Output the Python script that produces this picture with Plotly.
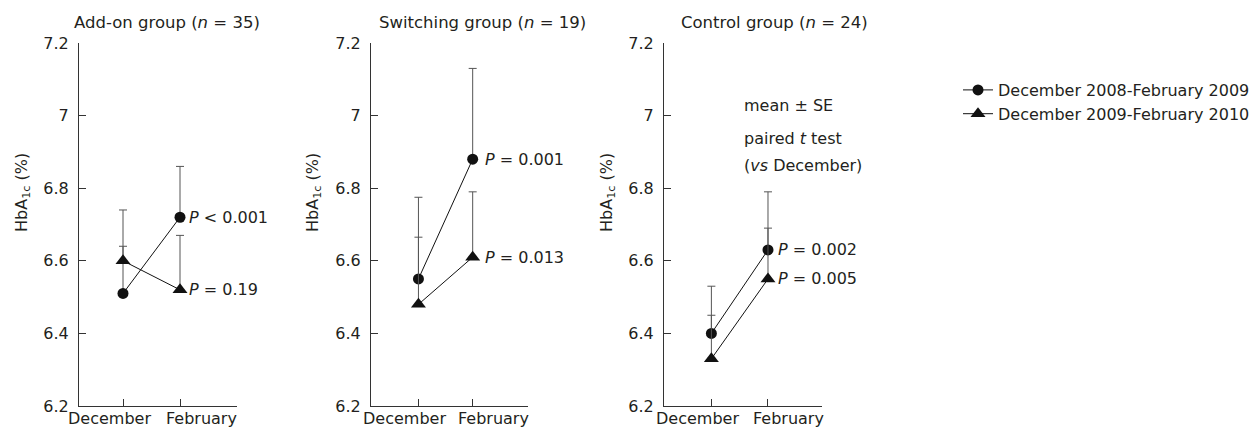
import plotly.graph_objects as go

# ---- data ----
categories = ["December", "February"]
cat_pos = [1, 2]
groups = ["Add-on group (<i>n</i> = 35)", "Switching group (<i>n</i> = 19)", "Control group (<i>n</i> = 24)"]
series_names = ["December 2008-February 2009", "December 2009-February 2010"]

# Add-on group
addon_0809_mean = [6.51, 6.72]
addon_0809_upper = [6.64, 6.86]
addon_0910_mean = [6.60, 6.52]
addon_0910_upper = [6.74, 6.67]
# Switching group
switch_0809_mean = [6.55, 6.88]
switch_0809_upper = [6.775, 7.13]
switch_0910_mean = [6.48, 6.61]
switch_0910_upper = [6.665, 6.79]
# Control group
control_0809_mean = [6.40, 6.63]
control_0809_upper = [6.53, 6.79]
control_0910_mean = [6.33, 6.55]
control_0910_upper = [6.45, 6.69]

p_labels = [["<i>P</i> &lt; 0.001", "<i>P</i> = 0.19"],
            ["<i>P</i> = 0.001", "<i>P</i> = 0.013"],
            ["<i>P</i> = 0.002", "<i>P</i> = 0.005"]]

y_ticks = [6.2, 6.4, 6.6, 6.8, 7.0, 7.2]
y_ticktext = ["6.2", "6.4", "6.6", "6.8", "7", "7.2"]

panels = [
    (addon_0809_mean, addon_0809_upper, addon_0910_mean, addon_0910_upper),
    (switch_0809_mean, switch_0809_upper, switch_0910_mean, switch_0910_upper),
    (control_0809_mean, control_0809_upper, control_0910_mean, control_0910_upper),
]

W, H = 1256, 432
FONT = "DejaVu Sans"
TXT = "#231f20"
AX = "#333333"

# geometry (pixels)
x_dom_px = [(79, 237), (371, 528), (664, 822)]
x_ranges = [(0.228, 3.0), (0.125, 3.02), (0.163, 2.954)]
y_top_px, y_bot_px = 43, 406
p_shift = [7, 10, 8]
title_cx = [167, 482, 774]
ytitle_x = [22, 313, 607]
cat_shift = [-14, 21]

fig = go.Figure()
symbols = ["circle", "triangle-up"]
sizes = [11, 13]

for i, (m1, u1, m2, u2) in enumerate(panels):
    xa = "x" if i == 0 else f"x{i+1}"
    ya = "y" if i == 0 else f"y{i+1}"
    for k, (m, u) in enumerate([(m1, u1), (m2, u2)]):
        fig.add_trace(go.Scatter(
            x=cat_pos, y=m, xaxis=xa, yaxis=ya,
            mode="lines+markers",
            name=series_names[k],
            legendgroup=series_names[k],
            showlegend=(i == 0),
            line=dict(color="#111111", width=1),
            marker=dict(symbol=symbols[k], size=sizes[k], color="#111111"),
            error_y=dict(type="data", symmetric=False,
                         array=[uu - mm for uu, mm in zip(u, m)],
                         arrayminus=[0] * len(m),
                         color="#555555", thickness=1, width=4),
        ))
        fig.add_annotation(
            x=cat_pos[1], y=m[1], xref=xa, yref=ya,
            text=p_labels[i][k], showarrow=False,
            xanchor="left", yanchor="middle", xshift=p_shift[i],
            font=dict(family=FONT, size=16, color=TXT),
        )
    # category labels (offset from ticks as in the reference)
    for c, pos, sh in zip(categories, cat_pos, cat_shift):
        fig.add_annotation(
            x=pos, y=(H - 418) / H, xref=xa, yref="paper",
            text=c, showarrow=False, xanchor="center", yanchor="middle",
            xshift=sh, font=dict(family=FONT, size=16, color=TXT),
        )

layout = {}
for i in range(3):
    xs = "xaxis" if i == 0 else f"xaxis{i+1}"
    ys = "yaxis" if i == 0 else f"yaxis{i+1}"
    ya = "y" if i == 0 else f"y{i+1}"
    xa = "x" if i == 0 else f"x{i+1}"
    l, r = x_dom_px[i]
    layout[xs] = dict(
        domain=[l / W, r / W], range=list(x_ranges[i]), anchor=ya,
        tickvals=cat_pos, showticklabels=False, automargin=False,
        ticks="inside", ticklen=7, tickcolor=AX, showline=True,
        linecolor=AX, linewidth=1, showgrid=False, zeroline=False,
    )
    layout[ys] = dict(
        domain=[(H - y_bot_px) / H, (H - y_top_px) / H], range=[6.2, 7.2], anchor=xa,
        tickvals=y_ticks, ticktext=y_ticktext, automargin=False,
        ticks="inside", ticklen=7, tickcolor=AX, showline=True,
        linecolor=AX, linewidth=1, showgrid=False, zeroline=False,
        tickfont=dict(family=FONT, size=16, color=TXT),
        ticklabelstandoff=6,
    )
    fig.add_annotation(
        x=title_cx[i] / W, y=(H - 23) / H, xref="paper", yref="paper",
        text=groups[i], showarrow=False, xanchor="center", yanchor="middle",
        font=dict(family=FONT, size=16.5, color=TXT),
    )
    fig.add_annotation(
        x=ytitle_x[i] / W, y=(H - 193) / H, xref="paper", yref="paper",
        text="HbA<sub>1c</sub> (%)", textangle=-90, showarrow=False,
        xanchor="center", yanchor="middle",
        font=dict(family=FONT, size=16, color=TXT),
    )

notes = ["mean ± SE", "paired <i>t</i> test", "(<i>vs</i> December)"]
note_y = [106, 138, 165]
for t, yy in zip(notes, note_y):
    fig.add_annotation(
        x=742 / W, y=(H - yy) / H, xref="paper", yref="paper",
        text=t, showarrow=False, xanchor="left", yanchor="middle",
        font=dict(family=FONT, size=16, color=TXT),
    )

fig.update_layout(
    **layout,
    width=W, height=H,
    margin=dict(l=0, r=0, t=0, b=0),
    paper_bgcolor="white", plot_bgcolor="white",
    font=dict(family=FONT, size=16, color=TXT),
    legend=dict(x=958 / W, y=(H - 73) / H, xanchor="left", yanchor="top",
                bgcolor="rgba(0,0,0,0)", font=dict(family=FONT, size=16, color=TXT),
                tracegroupgap=0),
    showlegend=True,
)

fig.write_html(
    "out.html",
    config={"displayModeBar": False},
    post_script="document.body.style.margin='0';document.body.style.overflow='hidden';",
)
